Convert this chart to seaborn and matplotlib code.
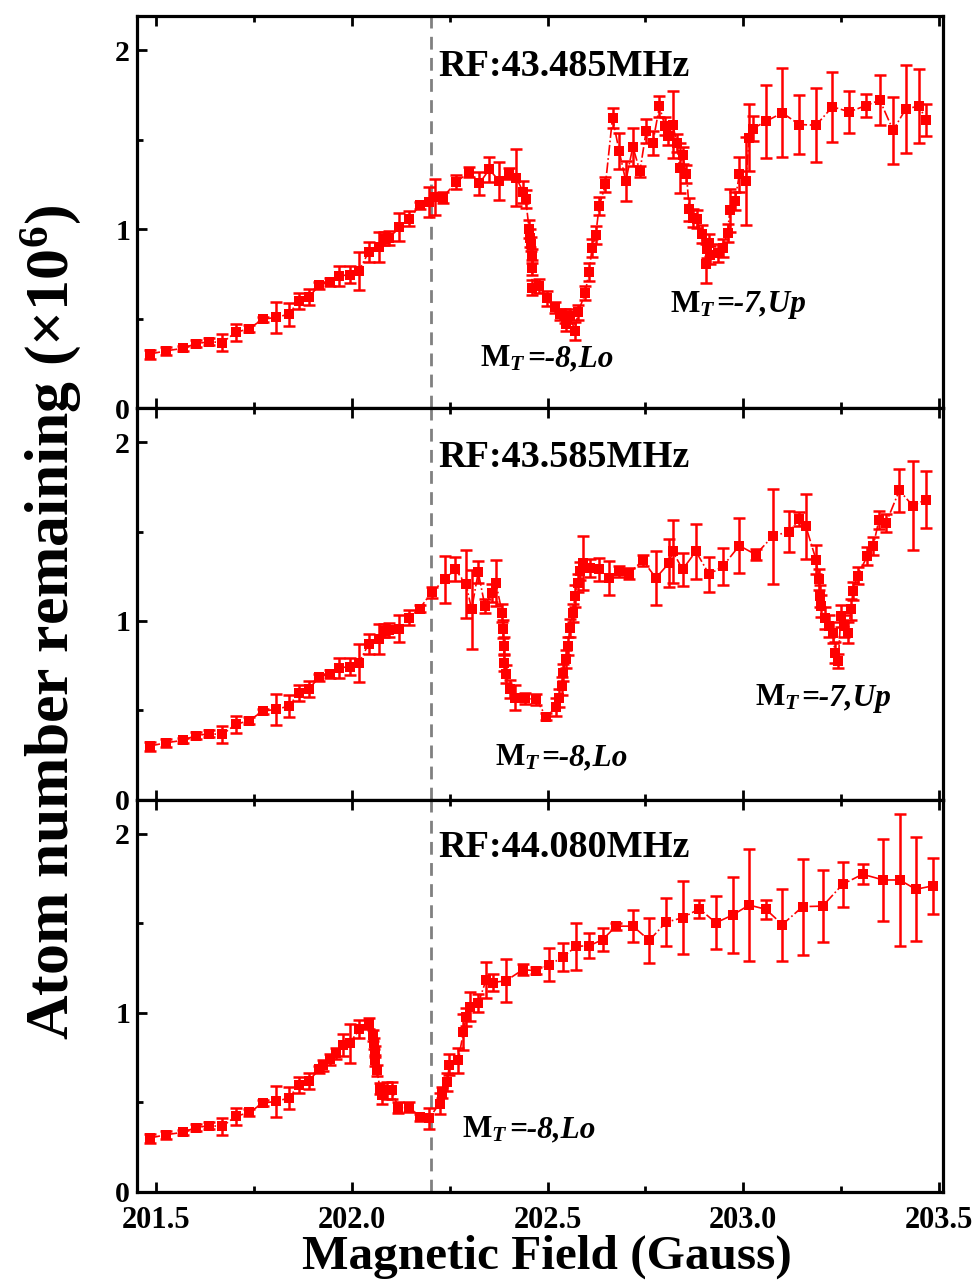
import numpy as np
import pandas as pd
import matplotlib
matplotlib.use("Agg")
import matplotlib.pyplot as plt
from matplotlib.ticker import MultipleLocator, FormatStrFormatter
import seaborn as sns

# ---------------- data (Magnetic field in Gauss, atom number in 1e6) ----------------
# segment shared by all three panels
base_x = [201.483, 201.526, 201.568, 201.602, 201.636, 201.669, 201.703, 201.738,
          201.772, 201.805, 201.839, 201.864, 201.890, 201.917]
base_y = [0.301, 0.320, 0.333, 0.360, 0.370, 0.366, 0.422, 0.444,
          0.496, 0.506, 0.524, 0.598, 0.621, 0.686]
base_e = [0.025, 0.022, 0.015, 0.020, 0.020, 0.048, 0.048, 0.022,
          0.015, 0.085, 0.063, 0.046, 0.046, 0.020]

# segment shared by panels 1 and 2
mid_x = [201.943, 201.968, 201.994, 202.018, 202.043, 202.070, 202.081, 202.096]
mid_y = [0.704, 0.738, 0.745, 0.766, 0.872, 0.900, 0.946, 0.950]
mid_e = [0.020, 0.056, 0.046, 0.106, 0.058, 0.084, 0.037, 0.037]

# panel 1 : RF 43.485 MHz
p1_x = [202.121, 202.147, 202.173, 202.198, 202.213, 202.232, 202.266, 202.300,
        202.326, 202.351, 202.377, 202.402, 202.420, 202.438, 202.444, 202.453,
        202.455, 202.458, 202.460, 202.461, 202.460, 202.477, 202.498, 202.519,
        202.532, 202.545, 202.547, 202.557, 202.570, 202.578, 202.596, 202.606,
        202.614, 202.623, 202.632, 202.648, 202.666, 202.683, 202.700, 202.718,
        202.736, 202.752, 202.769, 202.786, 202.800, 202.809, 202.820, 202.830,
        202.838, 202.845, 202.855, 202.862, 202.871, 202.881, 202.894, 202.906,
        202.908, 202.913, 202.914, 202.935, 202.948, 202.960, 202.966, 202.979,
        202.990, 203.007, 203.015, 203.024, 203.058, 203.100, 203.143, 203.186,
        203.228, 203.271, 203.314, 203.349, 203.383, 203.416, 203.450, 203.467]
p1_y = [1.011, 1.058, 1.132, 1.153, 1.180, 1.175, 1.262, 1.318,
        1.255, 1.333, 1.268, 1.309, 1.287, 1.206, 1.170, 0.998,
        0.952, 0.915, 0.849, 0.785, 0.673, 0.682, 0.612, 0.562,
        0.524, 0.515, 0.468, 0.515, 0.431, 0.534, 0.641, 0.760,
        0.896, 0.965, 1.128, 1.249, 1.621, 1.435, 1.268, 1.460,
        1.323, 1.547, 1.482, 1.686, 1.574, 1.519, 1.584, 1.482,
        1.342, 1.411, 1.305, 1.110, 1.064, 1.054, 0.970, 0.807,
        0.887, 0.924, 0.853, 0.868, 0.896, 0.980, 1.106, 1.156,
        1.305, 1.268, 1.510, 1.560, 1.602, 1.649, 1.584, 1.580,
        1.683, 1.655, 1.690, 1.720, 1.552, 1.673, 1.686, 1.608]
p1_e = [0.076, 0.043, 0.020, 0.084, 0.100, 0.030, 0.040, 0.030,
        0.063, 0.069, 0.108, 0.030, 0.158, 0.060, 0.050, 0.050,
        0.050, 0.040, 0.040, 0.040, 0.040, 0.040, 0.040, 0.030,
        0.030, 0.040, 0.040, 0.040, 0.050, 0.040, 0.040, 0.050,
        0.050, 0.050, 0.050, 0.040, 0.056, 0.102, 0.112, 0.107,
        0.030, 0.065, 0.068, 0.060, 0.050, 0.050, 0.186, 0.050,
        0.139, 0.050, 0.050, 0.065, 0.050, 0.050, 0.050, 0.111,
        0.050, 0.050, 0.050, 0.050, 0.050, 0.050, 0.120, 0.050,
        0.097, 0.246, 0.186, 0.070, 0.203, 0.248, 0.164, 0.206,
        0.195, 0.116, 0.065, 0.138, 0.188, 0.246, 0.207, 0.088]

# panel 2 : RF 43.585 MHz
p2_x = [202.121, 202.147, 202.173, 202.204, 202.238, 202.264, 202.292, 202.306,
        202.323, 202.340, 202.357, 202.368, 202.384, 202.386, 202.388, 202.390,
        202.394, 202.404, 202.417, 202.443, 202.471, 202.496, 202.522, 202.530,
        202.536, 202.540, 202.547, 202.552, 202.557, 202.565, 202.570, 202.577,
        202.583, 202.590, 202.608, 202.632, 202.658, 202.683, 202.709, 202.743,
        202.777, 202.811, 202.820, 202.845, 202.879, 202.913, 202.948, 202.990,
        203.032, 203.075, 203.117, 203.143, 203.160, 203.186, 203.194, 203.196,
        203.198, 203.209, 203.220, 203.230, 203.234, 203.243, 203.249, 203.258,
        203.267, 203.276, 203.280, 203.292, 203.317, 203.332, 203.347, 203.365,
        203.399, 203.433, 203.467]
p2_y = [0.957, 1.018, 1.068, 1.161, 1.232, 1.290, 1.204, 1.065,
        1.273, 1.083, 1.157, 1.213, 1.046, 0.953, 0.860, 0.768,
        0.702, 0.619, 0.572, 0.567, 0.563, 0.466, 0.517, 0.570,
        0.637, 0.712, 0.786, 0.860, 0.963, 1.046, 1.139, 1.213,
        1.278, 1.325, 1.297, 1.288, 1.241, 1.278, 1.265, 1.339,
        1.241, 1.325, 1.389, 1.288, 1.389, 1.260, 1.306, 1.421,
        1.371, 1.473, 1.500, 1.569, 1.529, 1.343, 1.232, 1.139,
        1.083, 1.018, 0.971, 0.935, 0.823, 0.776, 1.027, 0.971,
        0.935, 1.065, 1.167, 1.254, 1.362, 1.418, 1.566, 1.548,
        1.730, 1.644, 1.678]
p2_e = [0.076, 0.043, 0.020, 0.030, 0.132, 0.065, 0.190, 0.220,
        0.060, 0.040, 0.050, 0.130, 0.050, 0.050, 0.050, 0.050,
        0.050, 0.050, 0.070, 0.030, 0.030, 0.020, 0.050, 0.050,
        0.050, 0.050, 0.050, 0.050, 0.050, 0.050, 0.060, 0.050,
        0.050, 0.150, 0.050, 0.065, 0.095, 0.030, 0.030, 0.030,
        0.152, 0.135, 0.177, 0.093, 0.155, 0.098, 0.104, 0.153,
        0.030, 0.265, 0.113, 0.040, 0.181, 0.080, 0.060, 0.060,
        0.060, 0.060, 0.060, 0.060, 0.060, 0.040, 0.060, 0.060,
        0.060, 0.060, 0.050, 0.050, 0.050, 0.050, 0.050, 0.050,
        0.121, 0.248, 0.160]

# panel 3 : RF 44.080 MHz
p3_x = [201.927, 201.943, 201.960, 201.977, 201.994, 202.019, 202.043, 202.053,
        202.056, 202.058, 202.059, 202.064, 202.072, 202.077, 202.090, 202.102,
        202.119, 202.147, 202.173, 202.197, 202.224, 202.230, 202.244, 202.249,
        202.272, 202.285, 202.292, 202.302, 202.323, 202.343, 202.360, 202.394,
        202.437, 202.471, 202.505, 202.539, 202.573, 202.607, 202.641, 202.675,
        202.718, 202.760, 202.803, 202.845, 202.888, 202.930, 202.973, 203.015,
        203.058, 203.100, 203.152, 203.203, 203.254, 203.305, 203.358, 203.400,
        203.441, 203.484]
p3_y = [0.708, 0.740, 0.774, 0.820, 0.830, 0.908, 0.940, 0.876,
        0.830, 0.783, 0.736, 0.680, 0.577, 0.539, 0.567, 0.567,
        0.470, 0.475, 0.418, 0.411, 0.493, 0.555, 0.612, 0.712,
        0.736, 0.895, 0.975, 1.035, 1.054, 1.185, 1.170, 1.180,
        1.242, 1.236, 1.270, 1.311, 1.372, 1.376, 1.410, 1.485,
        1.485, 1.406, 1.507, 1.532, 1.582, 1.504, 1.547, 1.603,
        1.579, 1.494, 1.594, 1.597, 1.719, 1.775, 1.743, 1.743,
        1.691, 1.710]
p3_e = [0.030, 0.030, 0.030, 0.060, 0.110, 0.050, 0.030, 0.030,
        0.030, 0.030, 0.030, 0.030, 0.030, 0.050, 0.050, 0.050,
        0.030, 0.030, 0.020, 0.060, 0.060, 0.030, 0.050, 0.060,
        0.070, 0.100, 0.050, 0.080, 0.050, 0.100, 0.050, 0.120,
        0.030, 0.020, 0.094, 0.078, 0.133, 0.068, 0.064, 0.020,
        0.089, 0.127, 0.133, 0.204, 0.050, 0.148, 0.210, 0.315,
        0.053, 0.201, 0.268, 0.203, 0.126, 0.056, 0.227, 0.369,
        0.290, 0.155]

rf_labels = ["RF:43.485MHz", "RF:43.585MHz", "RF:44.080MHz"]
res_labels = [[("M", "T", "=-8,Lo"), ("M", "T", "=-7,Up")],
              [("M", "T", "=-8,Lo"), ("M", "T", "=-7,Up")],
              [("M", "T", "=-8,Lo")]]
res_pos = [[(202.328, 0.234), (202.813, 0.535)],
           [(202.366, 0.191), (203.030, 0.526)],
           [(202.282, 0.305)]]
dashed_field = 202.202
x_ticks = [201.5, 202.0, 202.5, 203.0, 203.5]
y_ticks = [0, 1, 2]

# ---------------- assemble panels ----------------
panels = [
    (base_x + mid_x + p1_x, base_y + mid_y + p1_y, base_e + mid_e + p1_e),
    (base_x + mid_x + p2_x, base_y + mid_y + p2_y, base_e + mid_e + p2_e),
    (base_x + p3_x, base_y + p3_y, base_e + p3_e),
]

sns.set_theme(style="white")
plt.rcParams["font.family"] = ["Liberation Serif", "DejaVu Serif"]
plt.rcParams["font.weight"] = "bold"
plt.rcParams["text.color"] = "black"
plt.rcParams["axes.labelcolor"] = "black"
plt.rcParams["xtick.color"] = "black"
plt.rcParams["ytick.color"] = "black"
plt.rcParams["mathtext.fontset"] = "custom"
plt.rcParams["mathtext.rm"] = "Liberation Serif:bold"
plt.rcParams["mathtext.it"] = "Liberation Serif:italic:bold"
plt.rcParams["mathtext.bf"] = "Liberation Serif:bold"

fig = plt.figure(figsize=(9.75, 12.84), dpi=100)
axes = fig.subplots(3, 1, sharex=True, gridspec_kw=dict(hspace=0))
fig.subplots_adjust(left=0.1405, right=0.967, bottom=0.0717, top=0.9875)
renderer = fig.canvas.get_renderer()

for i, ax in enumerate(axes):
    px, py, pe = panels[i]
    df = pd.DataFrame({"field": px, "atoms": py, "err": pe})
    ax.errorbar(df["field"], df["atoms"], yerr=df["err"], fmt="none",
                ecolor="#ff0000", elinewidth=1.8, capsize=4.3, capthick=1.8, zorder=2)
    sns.lineplot(data=df, x="field", y="atoms", ax=ax, sort=False, estimator=None,
                 color="#ff0000", marker="s", markersize=7, markeredgewidth=0,
                 linestyle="-.", linewidth=1.2, zorder=3)
    ax.axvline(dashed_field, color="#808080", linewidth=2.0, dashes=(4.6, 3.0), zorder=1)

    ax.set_xlim(201.451, 203.51)
    ax.set_ylim(0, 2.19)
    ax.set_xlabel("")
    ax.set_ylabel("")
    ax.set_yticks(y_ticks)
    ax.yaxis.set_minor_locator(MultipleLocator(0.5))
    ax.set_xticks(x_ticks)
    ax.xaxis.set_minor_locator(MultipleLocator(0.25))
    ax.xaxis.set_major_formatter(FormatStrFormatter("%.1f"))
    ax.tick_params(axis="both", which="both", direction="in", top=True, right=False,
                   bottom=True, left=True, width=2.0, color="black",
                   labelcolor="black")
    ax.tick_params(axis="both", which="major", length=7)
    ax.tick_params(axis="both", which="minor", length=4)
    ax.tick_params(axis="y", labelsize=21.5, pad=5)
    ax.tick_params(axis="x", labelsize=22, pad=10)
    for lab in ax.get_xticklabels() + ax.get_yticklabels():
        lab.set_fontweight("bold")
    for sp in ax.spines.values():
        sp.set_linewidth(2.3)
        sp.set_color("black")

    ax.text(202.222, [1.857, 1.863, 1.869][i], rf_labels[i], fontsize=27.5,
            fontweight="bold", ha="left", va="baseline", color="black", zorder=5)

    for (m, sub, rest), (tx, ty) in zip(res_labels[i], res_pos[i]):
        t1 = ax.text(tx, ty, m + r"$_{\mathit{" + sub + "}}$", fontsize=22.5,
                     fontweight="bold", ha="left", va="baseline", color="black", zorder=5)
        w = t1.get_window_extent(renderer=renderer).width * 72.0 / fig.dpi
        ax.annotate(rest, xy=(tx, ty), xycoords="data", xytext=(w + 0.5, 0),
                    textcoords="offset points", fontsize=22.5, fontweight="bold",
                    fontstyle="italic", ha="left", va="baseline", color="black", zorder=5)

fig.text(0.052, 0.515, "Atom number remaining (\u00d710$^{\\mathregular{6}}$)",
         rotation=90, fontsize=44.5, fontweight="bold", ha="center", va="center",
         color="black")
fig.text(0.561, 0.0215, "Magnetic Field (Gauss)", fontsize=35.5, fontweight="bold",
         ha="center", va="center", color="black")

fig.savefig("out.png", dpi=100)
